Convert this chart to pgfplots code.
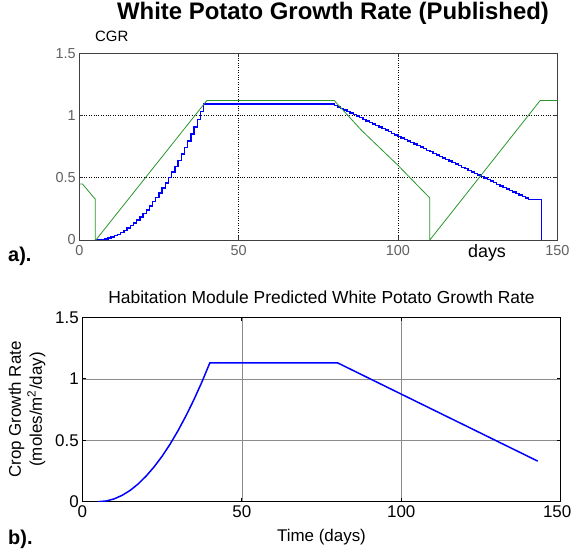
\documentclass[border=0pt]{standalone}
\usepackage{pgfplots}
\pgfplotsset{compat=1.18}
\usepackage{fontspec}
\setmainfont{Liberation Sans}
\definecolor{mgreen}{RGB}{40,150,40}
\definecolor{mblue}{RGB}{0,0,255}
\begin{document}
\begin{tikzpicture}
\useasboundingbox (0,0) rectangle (573bp,550bp);
% ---------------- top panel ----------------
\begin{axis}[
  at={(79.3bp,310bp)}, anchor=south west,
  scale only axis, width=478bp, height=186.7bp,
  xmin=0, xmax=150, ymin=0, ymax=1.5,
  xtick={0,50,100,150}, ytick={0,0.5,1,1.5},
  /pgf/number format/assume math mode=true,
  grid=major,
  major grid style={dotted, black, line width=0.7pt},
  tick align=inside, major tick length=4bp,
  tick style={black!80, line width=0.6pt},
  axis line style={black!75, line width=0.8pt},
  ticklabel style={font=\fontsize{14.5}{14.5}\selectfont, text=black!62},
  xticklabel style={yshift=-2bp},
]
\addplot[mblue, line width=1.4pt, const plot mark left] coordinates {
(5,0) (6,0.001) (7,0.004) (8,0.009) (9,0.015) (10,0.024) (11,0.034) (12,0.046)
(13,0.061) (14,0.077) (15,0.095) (16,0.115) (17,0.136) (18,0.160) (19,0.186)
(20,0.213) (21,0.242) (22,0.274) (23,0.307) (24,0.342) (25,0.379) (26,0.417)
(27,0.458) (28,0.501) (29,0.545) (30,0.592) (31,0.640) (32,0.690) (33,0.742)
(34,0.796) (35,0.852) (36,0.909) (37,0.969) (38,1.031) (39,1.094)
(80,1.082) (81,1.069) (82,1.057) (83,1.044) (84,1.032) (85,1.019) (86,1.007)
(87,0.995) (88,0.982) (89,0.970) (90,0.957) (91,0.945) (92,0.932) (93,0.920)
(94,0.908) (95,0.895) (96,0.883) (97,0.870) (98,0.858) (99,0.845) (100,0.833)
(101,0.821) (102,0.808) (103,0.796) (104,0.783) (105,0.771) (106,0.758)
(107,0.746) (108,0.734) (109,0.721) (110,0.709) (111,0.696) (112,0.684)
(113,0.671) (114,0.659) (115,0.647) (116,0.634) (117,0.622) (118,0.609)
(119,0.597) (120,0.584) (121,0.572) (122,0.560) (123,0.547) (124,0.535)
(125,0.522) (126,0.510) (127,0.497) (128,0.485) (129,0.473) (130,0.460)
(131,0.448) (132,0.435) (133,0.423) (134,0.410) (135,0.398) (136,0.386)
(137,0.373) (138,0.361) (139,0.348) (140,0.336) (141,0.323) (145,0)
};
\addplot[mgreen, line width=0.8pt] coordinates {
(0,0.45) (1,0.45) (4.6,0.34) (5,0.33) (5,0) (5.2,0) (40,1.12) (80,1.12)
(88.6,0.88) (100,0.60) (109.7,0.345) (110,0.34) (110,0) (144.6,1.12) (150,1.12)
};
\end{axis}
\node[anchor=base, font=\fontsize{24}{24}\selectfont\bfseries] at (333bp,530bp) {White Potato Growth Rate (Published)};
\node[anchor=base west, inner sep=0, font=\fontsize{15}{15}\selectfont] at (95bp,508bp) {CGR};
\node[anchor=base, inner sep=0, font=\fontsize{18}{18}\selectfont] at (487bp,292bp) {days};
\node[anchor=base west, inner sep=0, font=\fontsize{20}{20}\selectfont\bfseries] at (8bp,288bp) {a).};
% ---------------- bottom panel ----------------
\begin{axis}[
  at={(82.3bp,48.3bp)}, anchor=south west,
  scale only axis, width=478.4bp, height=184.4bp,
  xmin=0, xmax=150, ymin=0, ymax=1.5,
  xtick={0,50,100,150}, ytick={0,0.5,1,1.5},
  xticklabels={0,50,100,{\kern-7bp 150}},
  /pgf/number format/assume math mode=true,
  grid=major,
  major grid style={solid, black!45, line width=0.5pt},
  tick align=inside, major tick length=4bp,
  tick style={black, line width=0.6pt},
  axis line style={black, line width=1.1pt},
  ticklabel style={font=\fontsize{17}{17}\selectfont, text=black},
]
\addplot[mblue, line width=1.5pt] coordinates {
(5,0) (7.5,0.006) (10,0.023) (12.5,0.052) (15,0.092) (17.5,0.144) (20,0.208)
(22.5,0.283) (25,0.369) (27.5,0.467) (30,0.577) (32.5,0.698) (35,0.830)
(37.5,0.974) (40,1.13) (80,1.13) (142.8,0.33)
};
\end{axis}
\node[anchor=base, inner sep=0, font=\fontsize{17.5}{17.5}\selectfont] at (321.5bp,246bp) {Habitation Module Predicted White Potato Growth Rate};
\node[anchor=base, inner sep=0, font=\fontsize{17}{17}\selectfont] at (321.5bp,9bp) {Time (days)};
\node[rotate=90, align=center, inner sep=0, font=\fontsize{17}{21}\selectfont] at (27bp,140.5bp) {Crop Growth Rate\\(moles/m\textsuperscript{2}/day)};
\node[anchor=base west, inner sep=0, font=\fontsize{20}{20}\selectfont\bfseries] at (8bp,6bp) {b).};
\end{tikzpicture}
\end{document}
